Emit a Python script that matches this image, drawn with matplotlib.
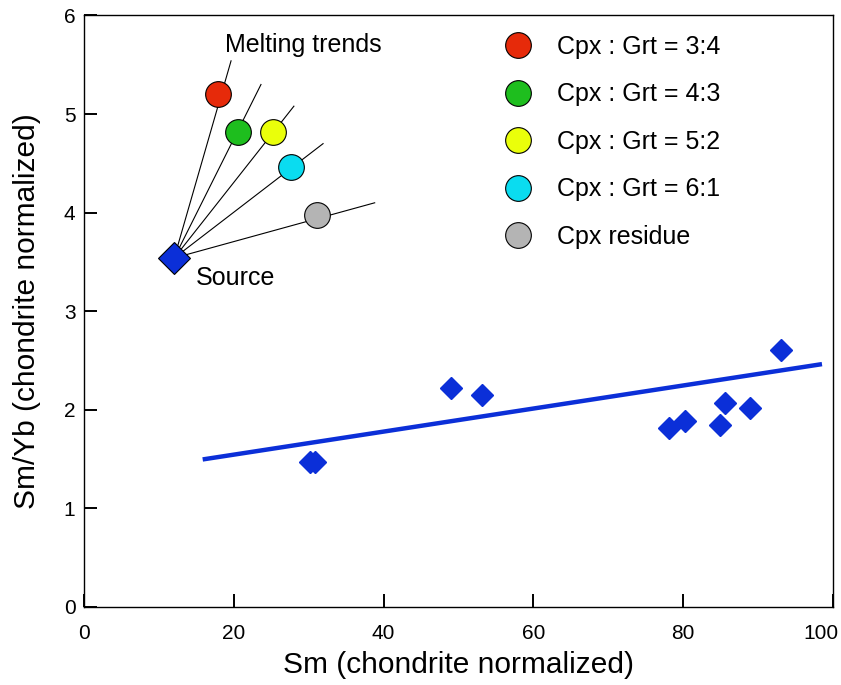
import numpy as np
import matplotlib
matplotlib.use("Agg")
import matplotlib.pyplot as plt
from matplotlib.lines import Line2D
import matplotlib.transforms as mtransforms

# =============================================================================
# DATA
# =============================================================================
sample_sm = [30.1, 30.8, 49.0, 53.1, 78.1, 80.3, 84.9, 85.6, 89.0, 93.1]
sample_smyb = [1.47, 1.47, 2.22, 2.15, 1.82, 1.89, 1.85, 2.07, 2.02, 2.61]

trend_sm = [16.1, 98.3]
trend_smyb = [1.50, 2.46]

source_sm = 12.0
source_smyb = 3.54

melt_labels = ["Cpx : Grt = 3:4", "Cpx : Grt = 4:3", "Cpx : Grt = 5:2",
               "Cpx : Grt = 6:1", "Cpx residue"]
melt_colors = ["#e62a0a", "#1ebe1e", "#eaff0a", "#0adcf0", "#b4b4b4"]
melt_sm = [17.8, 20.5, 25.2, 27.6, 31.1]
melt_smyb = [5.20, 4.82, 4.82, 4.46, 3.98]
trend_end_sm = [19.6, 23.6, 28.0, 31.9, 38.8]
trend_end_smyb = [5.54, 5.30, 5.08, 4.70, 4.10]

xticks = [0, 20, 40, 60, 80, 100]
yticks = [0, 1, 2, 3, 4, 5, 6]

# =============================================================================
# STYLE
# =============================================================================
plt.rcParams["font.family"] = ["Liberation Sans", "DejaVu Sans"]
blue = "#0b2fd8"
size_tick = 15
size_label = 21.5
size_text = 18

# =============================================================================
# FIGURE
# =============================================================================
fig = plt.figure(figsize=(8.41, 6.85), dpi=100)
ax = fig.add_axes([0.1004, 0.1139, 0.8895, 0.8635])

# melting trend lines from the source
for j in range(len(melt_sm)):
    ax.plot([source_sm, trend_end_sm[j]], [source_smyb, trend_end_smyb[j]],
            color="k", linewidth=0.8, zorder=2)
    ax.plot(melt_sm[j], melt_smyb[j], marker="o", markersize=18.5,
            markerfacecolor=melt_colors[j], markeredgecolor="k",
            markeredgewidth=0.8, linestyle="none", zorder=3)

ax.plot(source_sm, source_smyb, marker="D", markersize=16.5,
        markerfacecolor=blue, markeredgecolor="k", markeredgewidth=0.8,
        linestyle="none", zorder=4)

# samples and regression
ax.plot(trend_sm, trend_smyb, color=blue, linewidth=3.2, zorder=2)
ax.plot(sample_sm, sample_smyb, marker="D", markersize=11.5, color=blue,
        linestyle="none", zorder=3)

ax.text(18.8, 5.70, "Melting trends", fontsize=size_text, ha="left", va="center")
ax.text(14.9, 3.34, "Source", fontsize=size_text, ha="left", va="center")

# legend
handles = [Line2D([], [], marker="o", markersize=18.5, markerfacecolor=c,
                  markeredgecolor="k", markeredgewidth=0.8, linestyle="none")
           for c in melt_colors]
ax.legend(handles, melt_labels, loc="upper left", bbox_to_anchor=(0.5495, 0.984),
          frameon=False, fontsize=size_text, handlelength=1.0,
          handletextpad=1.06, labelspacing=0.94, borderaxespad=0)

# axes
ax.set_xlim(0, 100)
ax.set_ylim(0, 6)
ax.set_xticks(xticks)
ax.set_yticks(yticks)
ax.tick_params(axis="both", direction="in", length=9.5, width=1.4,
               labelsize=size_tick, top=False, right=False)
ax.tick_params(axis="x", pad=12)
ax.tick_params(axis="y", pad=6.5)
for sp in ax.spines.values():
    sp.set_linewidth(1.0)

# shift the last x tick label left, as in the original
lbl = ax.get_xticklabels()[-1]
lbl.set_transform(lbl.get_transform() +
                  mtransforms.ScaledTranslation(-0.12, 0, fig.dpi_scale_trans))

ax.set_xlabel("Sm (chondrite normalized)", fontsize=size_label, labelpad=6)
ax.set_ylabel("Sm/Yb (chondrite normalized)", fontsize=size_label, labelpad=16)

fig.savefig("out.png", dpi=100)
